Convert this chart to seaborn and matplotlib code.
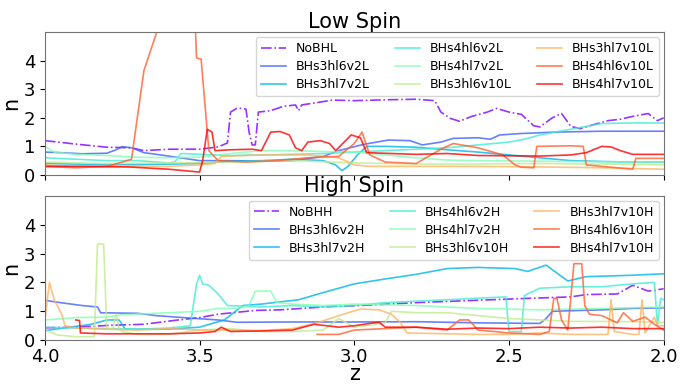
import numpy as np
import pandas as pd
import matplotlib
matplotlib.use("Agg")
import matplotlib.pyplot as plt
import seaborn as sns

# ---------------- Low spin runs ----------------
z_nobhl = [4.0, 3.9, 3.8, 3.72, 3.68, 3.6, 3.5, 3.44, 3.41, 3.40, 3.38, 3.36, 3.35, 3.34, 3.33, 3.32,
           3.31, 3.27, 3.23, 3.19, 3.18, 3.17, 3.14, 3.07, 3.0, 2.9, 2.8, 2.74, 2.72, 2.69, 2.66, 2.62,
           2.57, 2.54, 2.5, 2.46, 2.42, 2.40, 2.36, 2.33, 2.30, 2.27, 2.23, 2.18, 2.14, 2.10, 2.05, 2.02, 2.0]
n_nobhl = [1.2, 1.08, 0.97, 0.95, 0.85, 0.9, 0.9, 0.98, 1.12, 2.2, 2.33, 2.33, 2.3, 1.5, 1.05, 1.05,
           2.2, 2.25, 2.4, 2.45, 2.25, 2.45, 2.5, 2.62, 2.6, 2.63, 2.65, 2.6, 2.2, 1.98, 1.88, 2.05,
           2.2, 2.33, 2.2, 2.12, 1.72, 1.68, 2.0, 2.15, 1.7, 1.62, 1.75, 1.9, 1.95, 2.05, 2.15, 1.9, 2.0]

z_s3l6v2l = [4.0, 3.95, 3.88, 3.8, 3.77, 3.75, 3.72, 3.68, 3.6, 3.5, 3.4, 3.3, 3.2, 3.1, 3.05, 2.97,
             2.89, 2.82, 2.78, 2.72, 2.68, 2.6, 2.56, 2.53, 2.46, 2.35, 2.2, 2.0]
n_s3l6v2l = [0.8, 0.78, 0.74, 0.76, 0.88, 0.99, 0.95, 0.78, 0.66, 0.5, 0.5, 0.48, 0.5, 0.65, 0.85, 1.07,
             1.22, 1.2, 1.05, 1.15, 1.28, 1.3, 1.25, 1.4, 1.45, 1.5, 1.53, 1.53]

z_s3l7v2l = [4.0, 3.9, 3.8, 3.7, 3.6, 3.5, 3.4, 3.3, 3.2, 3.1, 3.06, 3.04, 3.02, 2.99, 2.96, 2.9, 2.8,
             2.7, 2.6, 2.5, 2.4, 2.3, 2.2, 2.1, 2.0]
n_s3l7v2l = [0.4, 0.38, 0.36, 0.36, 0.38, 0.4, 0.48, 0.5, 0.55, 0.5, 0.35, 0.15, 0.3, 0.7, 1.0, 1.0, 0.97,
             0.88, 0.8, 0.7, 0.6, 0.5, 0.47, 0.45, 0.45]

z_s4l6v2l = [4.0, 3.9, 3.8, 3.7, 3.6, 3.58, 3.56, 3.5, 3.4, 3.3, 3.2, 3.1, 3.0, 2.9, 2.8, 2.7, 2.6, 2.5,
             2.45, 2.4, 2.3, 2.2, 2.1, 2.0]
n_s4l6v2l = [0.6, 0.55, 0.5, 0.5, 0.42, 0.45, 0.75, 0.72, 0.68, 0.7, 0.72, 0.75, 0.8, 0.85, 0.9, 0.95,
             1.05, 1.15, 1.25, 1.4, 1.6, 1.8, 1.82, 1.82]

z_s4l7v2l = [4.0, 3.97, 3.9, 3.8, 3.7, 3.6, 3.5, 3.4, 3.3, 3.2, 3.1, 3.0, 2.9, 2.8, 2.7, 2.6, 2.4, 2.2, 2.0]
n_s4l7v2l = [1.0, 0.8, 0.72, 0.68, 0.62, 0.6, 0.62, 0.75, 0.85, 0.85, 0.82, 0.8, 0.7, 0.6, 0.52, 0.5,
             0.48, 0.46, 0.45]

z_s3l6v10l = [4.0, 3.8, 3.6, 3.4, 3.2, 3.0, 2.8, 2.6, 2.4, 2.2, 2.0]
n_s3l6v10l = [0.45, 0.4, 0.42, 0.45, 0.5, 0.42, 0.38, 0.38, 0.4, 0.38, 0.35]

z_s3l7v10l = [4.0, 3.9, 3.8, 3.7, 3.6, 3.5, 3.45, 3.43, 3.3, 3.15, 3.05, 3.0, 2.95, 2.8, 2.6, 2.4, 2.2, 2.0]
n_s3l7v10l = [0.35, 0.3, 0.28, 0.3, 0.3, 0.35, 0.4, 0.65, 0.7, 0.7, 0.6, 0.35, 0.3, 0.3, 0.3, 0.28, 0.25, 0.2]

z_s4l6v10l = [4.0, 3.9, 3.8, 3.75, 3.72, 3.68, 3.62, 3.515, 3.51, 3.495, 3.47, 3.44, 3.35, 3.25, 3.15,
              3.05, 3.0, 2.975, 2.95, 2.9, 2.8, 2.72, 2.68, 2.6, 2.52, 2.48, 2.46, 2.42, 2.41, 2.3,
              2.26, 2.25, 2.2, 2.1, 2.09, 2.0]
n_s4l6v10l = [0.3, 0.25, 0.3, 0.45, 0.55, 3.65, 5.6, 5.6, 4.1, 4.05, 0.85, 0.5, 0.45, 0.5, 0.6,
              0.65, 1.1, 1.5, 0.7, 0.45, 0.4, 0.9, 1.1, 0.95, 0.7, 0.35, 0.27, 0.25, 1.0, 1.02,
              1.0, 0.35, 0.3, 0.2, 0.58, 0.58]

z_s4l7v10l = [4.0, 3.85, 3.73, 3.6, 3.5, 3.49, 3.475, 3.46, 3.45, 3.4, 3.33, 3.3, 3.27, 3.24, 3.21,
              3.19, 3.17, 3.15, 3.11, 3.08, 3.06, 3.01, 2.98, 2.96, 2.8, 2.7, 2.6, 2.4, 2.3, 2.25,
              2.2, 2.17, 2.14, 2.1, 2.0]
n_s4l7v10l = [0.3, 0.3, 0.28, 0.2, 0.1, 0.5, 1.6, 1.5, 0.85, 0.88, 0.9, 0.85, 1.5, 1.52, 1.4,
              0.95, 0.85, 1.15, 1.2, 1.1, 0.85, 1.4, 1.3, 0.78, 0.72, 0.75, 0.68, 0.66, 0.7, 0.78,
              1.0, 0.98, 0.85, 0.72, 0.72]

# ---------------- High spin runs ----------------
z_nobhh = [4.0, 3.9, 3.78, 3.68, 3.57, 3.5, 3.44, 3.32, 3.24, 3.07, 3.0, 2.8, 2.68, 2.46, 2.3, 2.25,
           2.15, 2.1, 2.05, 2.0]
n_nobhh = [0.43, 0.45, 0.52, 0.55, 0.7, 0.78, 0.9, 1.03, 1.05, 1.17, 1.19, 1.3, 1.35, 1.44, 1.5, 1.58,
           1.6, 1.9, 1.7, 1.78]

z_s3l6v2h = [4.0, 3.95, 3.88, 3.83, 3.82, 3.7, 3.64, 3.55, 3.44, 3.38, 3.2, 3.0, 2.8, 2.6, 2.4, 2.38,
             2.36, 2.3, 2.2, 2.1, 2.0]
n_s3l6v2h = [1.38, 1.3, 1.2, 1.15, 0.95, 0.93, 0.85, 0.78, 0.7, 0.62, 0.63, 0.63, 0.64, 0.6, 0.58, 0.75,
             1.0, 1.02, 1.05, 1.1, 1.12]

z_s3l7v2h = [4.0, 3.92, 3.85, 3.8, 3.76, 3.74, 3.6, 3.5, 3.42, 3.36, 3.3, 3.18, 3.1, 3.0, 2.9, 2.8,
             2.7, 2.6, 2.48, 2.44, 2.38, 2.31, 2.25, 2.1, 2.0]
n_s3l7v2h = [0.33, 0.45, 0.55, 0.7, 0.7, 0.38, 0.38, 0.45, 0.7, 1.2, 1.25, 1.4, 1.65, 1.95, 2.12, 2.28,
             2.48, 2.52, 2.48, 2.38, 2.6, 2.05, 2.2, 2.25, 2.3]

z_s4l6v2h = [4.0, 3.9, 3.8, 3.7, 3.6, 3.53, 3.51, 3.5, 3.49, 3.47, 3.44, 3.41, 3.3, 3.2, 3.1, 3.0,
             2.9, 2.7, 2.51, 2.5, 2.46, 2.45, 2.4, 2.3, 2.2, 2.1, 2.03, 2.02, 2.01, 2.0]
n_s4l6v2h = [0.45, 0.42, 0.4, 0.38, 0.42, 0.5, 1.93, 2.25, 1.95, 1.9, 1.6, 1.2, 1.15, 1.2, 1.15, 1.2,
             1.3, 1.4, 1.5, 0.3, 0.3, 1.55, 1.8, 1.85, 1.85, 1.95, 2.0, 0.5, 1.45, 1.4]

z_s4l7v2h = [4.0, 3.9, 3.8, 3.75, 3.6, 3.5, 3.44, 3.38, 3.34, 3.32, 3.27, 3.25, 3.2, 3.1, 3.0, 2.8,
             2.6, 2.4, 2.2, 2.0]
n_s4l7v2h = [0.7, 0.78, 0.8, 0.88, 0.95, 1.0, 1.1, 1.1, 1.2, 1.7, 1.7, 1.3, 1.25, 1.2, 1.25, 1.2,
             1.1, 1.05, 1.1, 1.15]

z_s3l6v10h = [4.0, 3.96, 3.9, 3.84, 3.83, 3.81, 3.8, 3.78, 3.77, 3.76, 3.75, 3.7, 3.6, 3.5, 3.4, 3.3,
              3.2, 3.1, 3.05, 3.0, 2.9, 2.88, 2.8, 2.7, 2.6, 2.5, 2.4, 2.3, 2.2, 2.1, 2.0]
n_s3l6v10h = [0.35, 0.18, 0.12, 0.12, 3.33, 3.33, 0.4, 0.4, 0.9, 0.4, 0.3, 0.2, 0.2, 0.35, 0.4, 0.3,
              0.3, 0.35, 0.75, 0.45, 0.6, 1.0, 0.95, 0.95, 0.85, 0.75, 0.7, 0.65, 0.65, 0.64, 0.62]

z_s3l7v10h = [4.0, 3.998, 3.99, 3.985, 3.97, 3.945, 3.935, 3.9, 3.8, 3.7, 3.6, 3.5, 3.4, 3.3, 3.2,
              3.12, 3.05, 2.98, 2.92, 2.88, 2.85, 2.83, 2.7, 2.6, 2.5, 2.4, 2.3, 2.22, 2.18, 2.17,
              2.16, 2.1, 2.08, 2.07, 2.06, 2.03, 2.02, 2.0]
n_s3l7v10h = [4.2, 0.85, 1.6, 2.0, 1.4, 0.88, 0.5, 0.42, 0.38, 0.35, 0.4, 0.35, 0.35, 0.33, 0.4,
              0.6, 0.85, 1.08, 1.05, 0.9, 0.6, 0.25, 0.22, 0.2, 0.2, 0.25, 0.2, 0.2, 0.2, 1.4,
              0.3, 0.2, 0.2, 1.4, 0.25, 0.8, 0.5, 0.5]

z_s4l6v10h = [3.12, 3.05, 3.0, 2.9, 2.8, 2.7, 2.66, 2.63, 2.6, 2.5, 2.4, 2.37, 2.355, 2.345, 2.33,
              2.31, 2.29, 2.265, 2.255, 2.24, 2.2, 2.15, 2.13, 2.1, 2.06, 2.03, 2.0]
n_s4l6v10h = [0.2, 0.2, 0.35, 0.4, 0.45, 0.35, 0.7, 0.7, 0.35, 0.25, 0.2, 0.3, 1.45, 1.45, 0.7,
              0.35, 2.65, 2.65, 1.2, 0.9, 0.85, 0.6, 0.95, 0.65, 0.8, 0.55, 0.35]

z_s4l7v10h = [3.9, 3.888, 3.885, 3.8, 3.7, 3.6, 3.5, 3.45, 3.43, 3.4, 3.3, 3.2, 3.13, 3.05, 3.0,
              2.95, 2.92, 2.9, 2.8, 2.7, 2.6, 2.5, 2.4, 2.3, 2.2, 2.1, 2.0]
n_s4l7v10h = [0.7, 0.68, 0.25, 0.22, 0.22, 0.22, 0.25, 0.3, 0.45, 0.3, 0.32, 0.35, 0.55, 0.45, 0.5,
              0.58, 0.62, 0.45, 0.45, 0.38, 0.42, 0.4, 0.45, 0.42, 0.45, 0.4, 0.4]

low_names = ["NoBHL", "BHs3hl6v2L", "BHs3hl7v2L", "BHs4hl6v2L", "BHs4hl7v2L",
             "BHs3hl6v10L", "BHs3hl7v10L", "BHs4hl6v10L", "BHs4hl7v10L"]
high_names = ["NoBHH", "BHs3hl6v2H", "BHs3hl7v2H", "BHs4hl6v2H", "BHs4hl7v2H",
              "BHs3hl6v10H", "BHs3hl7v10H", "BHs4hl6v10H", "BHs4hl7v10H"]

low_runs = [(z_nobhl, n_nobhl), (z_s3l6v2l, n_s3l6v2l), (z_s3l7v2l, n_s3l7v2l),
            (z_s4l6v2l, n_s4l6v2l), (z_s4l7v2l, n_s4l7v2l), (z_s3l6v10l, n_s3l6v10l),
            (z_s3l7v10l, n_s3l7v10l), (z_s4l6v10l, n_s4l6v10l), (z_s4l7v10l, n_s4l7v10l)]
high_runs = [(z_nobhh, n_nobhh), (z_s3l6v2h, n_s3l6v2h), (z_s3l7v2h, n_s3l7v2h),
             (z_s4l6v2h, n_s4l6v2h), (z_s4l7v2h, n_s4l7v2h), (z_s3l6v10h, n_s3l6v10h),
             (z_s3l7v10h, n_s3l7v10h), (z_s4l6v10h, n_s4l6v10h), (z_s4l7v10h, n_s4l7v10h)]

colors = plt.cm.rainbow(np.linspace(0, 1, 9))

fig = plt.figure(figsize=(6.8, 3.87), dpi=100)
ax_low = fig.add_axes([0.066, 0.548, 0.910, 0.369])
ax_high = fig.add_axes([0.066, 0.121, 0.910, 0.373], sharex=ax_low)


def draw_panel(ax, names, runs, title):
    for i, (name, (z, n)) in enumerate(zip(names, runs)):
        df = pd.DataFrame({"z": z, "n": n})
        sns.lineplot(data=df, x="z", y="n", ax=ax, sort=False, estimator=None,
                     color=colors[i], alpha=0.8, lw=1.2,
                     linestyle="-." if i == 0 else "-", label=name)
    ax.set_xlim(4.0, 2.0)
    ax.set_ylim(0, 5)
    ax.set_yticks([0, 1, 2, 3, 4])
    ax.set_title(title, fontsize=15, pad=3)
    ax.set_ylabel("n", fontsize=15, labelpad=2)
    ax.tick_params(labelsize=13)
    for s in ax.spines.values():
        s.set_edgecolor("0.45")
    ax.legend(loc="upper right", ncol=3, fontsize=9, borderaxespad=0.4,
              labelspacing=0.4)


draw_panel(ax_low, low_names, low_runs, "Low Spin")
draw_panel(ax_high, high_names, high_runs, "High Spin")

ax_low.set_xlabel("")
plt.setp(ax_low.get_xticklabels(), visible=False)
ax_high.set_xticks([4.0, 3.5, 3.0, 2.5, 2.0])
ax_high.set_xticklabels(["4.0", "3.5", "3.0", "2.5", "2.0"])
ax_high.tick_params(axis="x", pad=2)
ax_high.set_xlabel("z", fontsize=15, labelpad=-1)

fig.savefig("out.png", dpi=100)
